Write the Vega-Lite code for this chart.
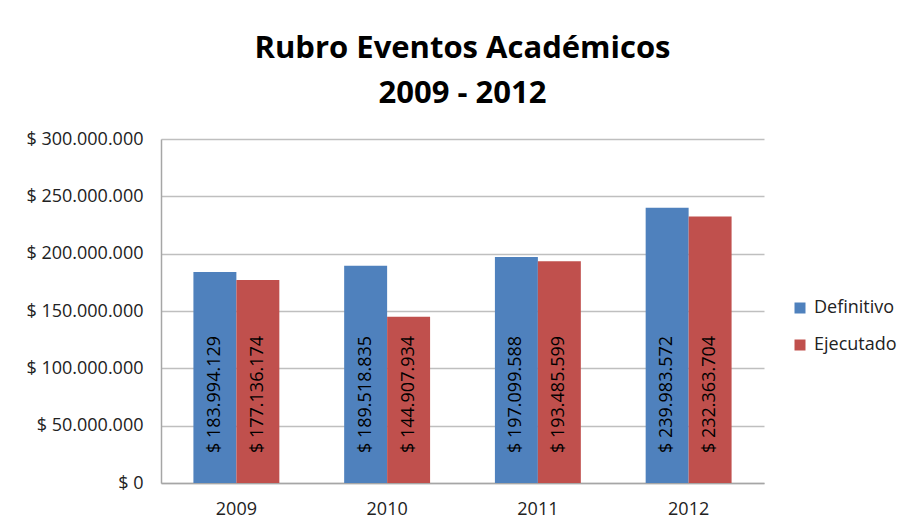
{
  "$schema": "https://vega.github.io/schema/vega-lite/v6.json",
  "autosize": {"type": "none"},
  "width": 603,
  "height": 344,
  "padding": {"left": 161, "top": 139, "right": 140, "bottom": 48},
  "background": "white",
  "config": {
    "locale": {"number": {"decimal": ",", "thousands": ".", "grouping": [3], "currency": ["$ ", ""]}},
    "font": "Open Sans",
    "view": {"stroke": null}
  },
  "title": {
    "text": ["Rubro Eventos Académicos", "2009 - 2012"],
    "font": "Open Sans",
    "fontSize": 31,
    "fontWeight": "bold",
    "color": "#000000",
    "anchor": "middle",
    "lineHeight": 45,
    "baseline": "alphabetic",
    "offset": 36,
    "dy": 40
  },
  "data": {
    "values": [
      {"anio": "2009", "serie": "Definitivo", "valor": 183994129},
      {"anio": "2009", "serie": "Ejecutado", "valor": 177136174},
      {"anio": "2010", "serie": "Definitivo", "valor": 189518835},
      {"anio": "2010", "serie": "Ejecutado", "valor": 144907934},
      {"anio": "2011", "serie": "Definitivo", "valor": 197099588},
      {"anio": "2011", "serie": "Ejecutado", "valor": 193485599},
      {"anio": "2012", "serie": "Definitivo", "valor": 239983572},
      {"anio": "2012", "serie": "Ejecutado", "valor": 232363704}
    ]
  },
  "encoding": {
    "x": {
      "field": "anio", "type": "nominal",
      "scale": {"paddingInner": 0.43, "paddingOuter": 0.215},
      "axis": {
        "title": null, "labelAngle": 0, "ticks": false, "domainColor": "#a6a6a6", "domainWidth": 1.5,
        "labelFontSize": 18, "labelColor": "#222222", "labelPadding": 17, "labelFont": "Open Sans"
      }
    },
    "xOffset": {"field": "serie", "type": "nominal", "scale": {"paddingInner": 0, "paddingOuter": 0}}
  },
  "layer": [
    {
      "mark": {"type": "bar"},
      "encoding": {
        "y": {
          "field": "valor", "type": "quantitative",
          "scale": {"domain": [0, 300000000], "nice": false},
          "axis": {
            "title": null, "format": "$,.0f", "values": [0, 50000000, 100000000, 150000000, 200000000, 250000000, 300000000],
            "ticks": false, "labelPadding": 18, "labelFontSize": 18, "labelColor": "#222222", "labelFont": "Open Sans",
            "gridColor": "#bfbfbf", "gridWidth": 1.5, "domainColor": "#a6a6a6", "domainWidth": 1.5
          }
        },
        "color": {
          "field": "serie", "type": "nominal",
          "scale": {"domain": ["Definitivo", "Ejecutado"], "range": ["#4f81bd", "#c0504d"]},
          "legend": {
            "title": null, "orient": "none", "legendX": 630, "legendY": 160,
            "symbolType": "square", "symbolSize": 121, "symbolStrokeWidth": 0,
            "labelFontSize": 18, "labelFont": "Open Sans", "labelColor": "#222222", "labelOffset": 5, "rowPadding": 19
          }
        }
      }
    },
    {
      "mark": {"type": "text", "angle": 270, "align": "left", "baseline": "middle", "dx": 30, "fontSize": 18, "font": "Open Sans", "color": "#000000"},
      "encoding": {
        "y": {"datum": 0, "type": "quantitative"},
        "text": {"field": "valor", "type": "quantitative", "format": "$,.0f"}
      }
    }
  ]
}
